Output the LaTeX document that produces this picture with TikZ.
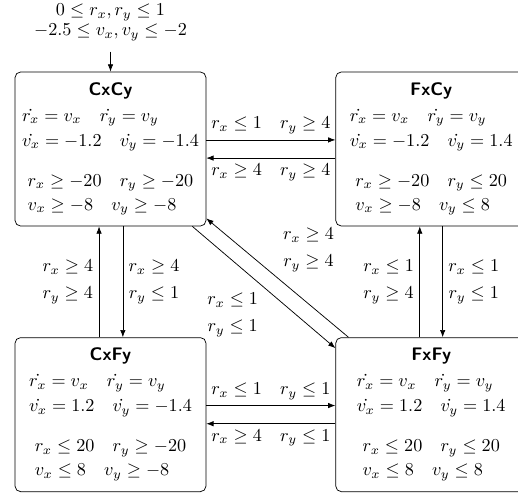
\documentclass[tikz,border=0pt]{standalone}
\usetikzlibrary{arrows.meta, positioning}

% one hybrid mode: box, title, flow lines, invariant lines
\newcommand{\hybridmode}[7]{%
  \node[mode, #2] (#1) {};
  \node[mtitle] (#1-title) at ([yshift=-12.9pt]#1.north) {#3};
  \node[eqn, anchor=base] (#1-f2) at ([yshift=-41pt]#1.north) {$#5$};
  \node[eqn, anchor=base west] (#1-f1) at ([yshift=13.75pt]#1-f2.base west) {$#4$};
  \node[eqn, anchor=base] (#1-i1) at ([yshift=-63pt]#1.north) {$#6$};
  \node[eqn, anchor=base west] (#1-i2) at ([yshift=-13.2pt]#1-i1.base west) {$#7$};
}

\begin{document}
\begin{tikzpicture}[
    x=0.55pt, y=-0.55pt,
    mode/.style={draw, rounded corners=3pt, minimum width=105pt, minimum height=84.7pt, inner sep=0pt},
    mtitle/.style={anchor=base, font=\sffamily\bfseries, inner sep=0pt},
    eqn/.style={inner sep=0pt},
    init/.style={align=center, inner sep=0pt, outer sep=5.8pt},
    arr/.style={-{Latex[length=4pt, width=3pt]}},
    guard/.style={align=center, inner sep=3pt},
  ]
  \useasboundingbox (0,0) rectangle (518,493);

  % Modes
  \hybridmode{cxcy}{at={(110.5,149)}}{CxCy}
    {\dot{r_x} = v_x \quad \dot{r_y} = v_y}{\dot{v_x} = -1.2 \quad \dot{v_y} = -1.4}
    {r_x \geq -20 \quad r_y \geq -20}{v_x \geq -8 \quad v_y \geq -8}
  \hybridmode{fxcy}{right=71pt of cxcy}{FxCy}
    {\dot{r_x} = v_x \quad \dot{r_y} = v_y}{\dot{v_x} = -1.2 \quad \dot{v_y} = 1.4}
    {r_x \geq -20 \quad r_y \leq 20}{v_x \geq -8 \quad v_y \leq 8}
  \hybridmode{cxfy}{below=61pt of cxcy}{CxFy}
    {\dot{r_x} = v_x \quad \dot{r_y} = v_y}{\dot{v_x} = 1.2 \quad \dot{v_y} = -1.4}
    {r_x \leq 20 \quad r_y \geq -20}{v_x \leq 8 \quad v_y \geq -8}
  \hybridmode{fxfy}{right=71pt of cxfy}{FxFy}
    {\dot{r_x} = v_x \quad \dot{r_y} = v_y}{\dot{v_x} = 1.2 \quad \dot{v_y} = 1.4}
    {r_x \leq 20 \quad r_y \leq 20}{v_x \leq 8 \quad v_y \leq 8}

  % Initial set
  \node[init, above=11pt of cxcy] (init) {$0 \leq r_x, r_y \leq 1$\\[-1pt]$-2.5 \leq v_x, v_y \leq -2$};
  \draw[arr] (init) -- (cxcy);

  % Horizontal switches
  \draw[arr] ([yshift=5pt]cxcy.east) -- node[guard, above] {$r_x \leq 1 \quad r_y \geq 4$} ([yshift=5pt]fxcy.west);
  \draw[arr] ([yshift=-5pt]fxcy.west) -- node[guard, below] {$r_x \geq 4 \quad r_y \geq 4$} ([yshift=-5pt]cxcy.east);
  \draw[arr] ([yshift=5pt]cxfy.east) -- node[guard, above] {$r_x \leq 1 \quad r_y \leq 1$} ([yshift=5pt]fxfy.west);
  \draw[arr] ([yshift=-5pt]fxfy.west) -- node[guard, below] {$r_x \geq 4 \quad r_y \leq 1$} ([yshift=-5pt]cxfy.east);

  % Vertical switches
  \draw[arr] ([xshift=-6.3pt]cxfy.north) -- node[guard, left] {$r_x \geq 4$\\[2.85pt]$r_y \geq 4$} ([xshift=-6.3pt]cxcy.south);
  \draw[arr] ([xshift=6.8pt]cxcy.south) -- node[guard, right] {$r_x \geq 4$\\[2.85pt]$r_y \leq 1$} ([xshift=6.8pt]cxfy.north);
  \draw[arr] ([xshift=-6.3pt]fxfy.north) -- node[guard, left] {$r_x \leq 1$\\[2.85pt]$r_y \geq 4$} ([xshift=-6.3pt]fxcy.south);
  \draw[arr] ([xshift=6.3pt]fxcy.south) -- node[guard, right] {$r_x \leq 1$\\[2.85pt]$r_y \leq 1$} ([xshift=6.3pt]fxfy.north);

  % Diagonal switches
  \draw[arr] ([xshift=-7.7pt]cxcy.south east) -- node[guard, below left] {$r_x \leq 1$\\[2.85pt]$r_y \leq 1$} ([yshift=-6pt]fxfy.north west);
  \draw[arr] ([xshift=7.2pt]fxfy.north west) -- node[guard, above right] {$r_x \geq 4$\\[2.85pt]$r_y \geq 4$} ([yshift=4.4pt]cxcy.south east);

\end{tikzpicture}
\end{document}
